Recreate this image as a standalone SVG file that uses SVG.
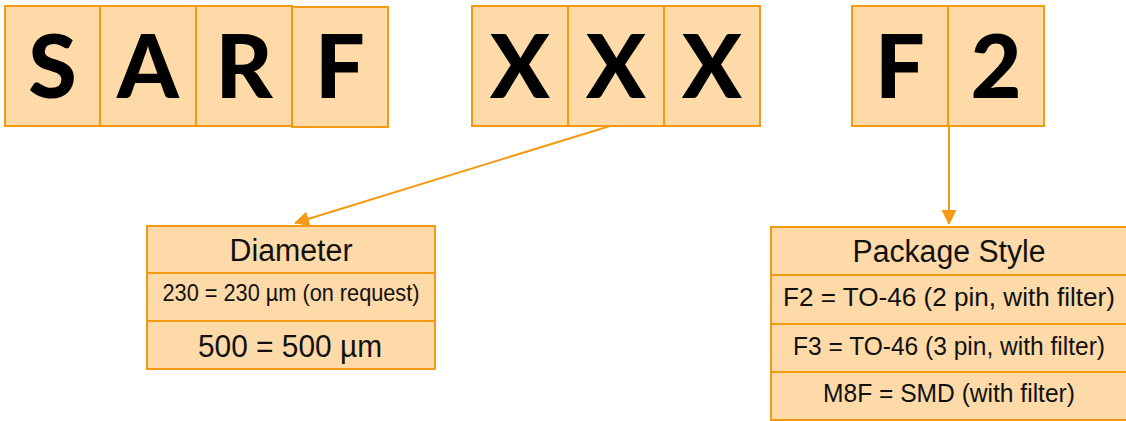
<svg xmlns="http://www.w3.org/2000/svg" width="1126" height="421" viewBox="0 0 1126 421">
<style>
.box{fill:#FDDAA7;stroke:#F39A12;stroke-width:2}
.big{font-family:Lato,"Liberation Sans",sans-serif;font-weight:900;font-size:88px;fill:#000;text-anchor:middle}
.t{font-family:"Liberation Sans",Arial,sans-serif;fill:#111;text-anchor:middle}
.edge{stroke:#F39A12;stroke-width:2;fill:none}
</style>
<defs>
<marker id="ah" markerWidth="15" markerHeight="15" refX="14" refY="7.5" orient="auto" markerUnits="userSpaceOnUse">
<path d="M0,0 L15,7.5 L0,15 Z" fill="#F39A12"/>
</marker>
</defs>
<rect width="1126" height="421" fill="#fff"/>
<g id="letter-S"><rect class="box" x="5" y="6" width="95" height="120"/><text class="big" x="52.5" y="98">S</text></g>
<g id="letter-A"><rect class="box" x="100" y="6" width="96" height="120"/><text class="big" x="148" y="98">A</text></g>
<g id="letter-R"><rect class="box" x="196" y="6" width="96" height="120"/><text class="big" x="244" y="98">R</text></g>
<g id="letter-F"><rect class="box" x="292" y="7" width="96" height="120"/><text class="big" x="340" y="98">F</text></g>
<g id="letter-X1"><rect class="box" x="472" y="6" width="96" height="120"/><text class="big" x="520" y="98">X</text></g>
<g id="letter-X2"><rect class="box" x="568" y="6" width="96" height="120"/><text class="big" x="616" y="98">X</text></g>
<g id="letter-X3"><rect class="box" x="664" y="6" width="96" height="120"/><text class="big" x="712" y="98">X</text></g>
<g id="letter-F2a"><rect class="box" x="852" y="6" width="96" height="120"/><text class="big" x="900" y="98">F</text></g>
<g id="letter-F2b"><rect class="box" x="948" y="6" width="96" height="120"/><text class="big" x="996" y="98">2</text></g>
<g id="diameter">
<rect class="box" x="147" y="226" width="288" height="47"/>
<rect class="box" x="147" y="273" width="288" height="48"/>
<rect class="box" x="147" y="321" width="288" height="48"/>
<text class="t" x="291" y="261" font-size="31" textLength="123" lengthAdjust="spacingAndGlyphs">Diameter</text>
<text class="t" x="291" y="301" font-size="24" textLength="257" lengthAdjust="spacingAndGlyphs">230 = 230 µm (on request)</text>
<text class="t" x="290" y="357" font-size="31" textLength="184" lengthAdjust="spacingAndGlyphs">500 = 500 µm</text>
</g>
<g id="package">
<rect class="box" x="771" y="227" width="362" height="48"/>
<rect class="box" x="771" y="275" width="362" height="49"/>
<rect class="box" x="771" y="324" width="362" height="48"/>
<rect class="box" x="771" y="372" width="362" height="48"/>
<text class="t" x="949" y="262" font-size="31" textLength="193" lengthAdjust="spacingAndGlyphs">Package Style</text>
<text class="t" x="949" y="306" font-size="26" font-weight="500" fill="#000" textLength="332" lengthAdjust="spacingAndGlyphs">F2 = TO-46 (2 pin, with filter)</text>
<text class="t" x="949" y="355" font-size="25" textLength="312" lengthAdjust="spacingAndGlyphs">F3 = TO-46 (3 pin, with filter)</text>
<text class="t" x="949" y="402" font-size="25" textLength="252" lengthAdjust="spacingAndGlyphs">M8F = SMD (with filter)</text>
</g>
<g id="connectors">
<line class="edge" x1="610" y1="126" x2="295" y2="223" marker-end="url(#ah)"/>
<line class="edge" x1="949" y1="126" x2="949" y2="224" marker-end="url(#ah)"/>
</g>
</svg>
